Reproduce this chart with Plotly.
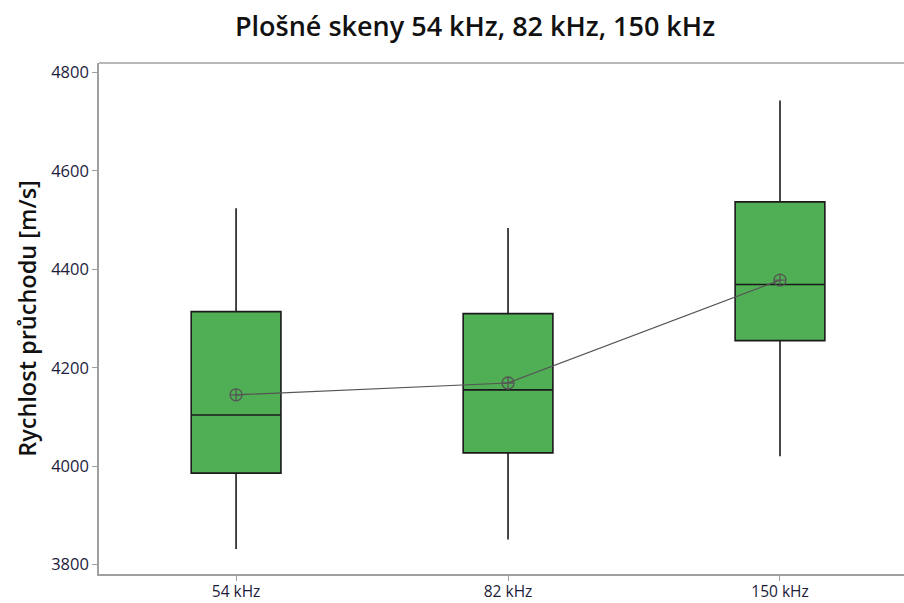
import plotly.graph_objects as go

categories = ["54 kHz", "82 kHz", "150 kHz"]
lower_whisker = [3832, 3851, 4020]
q1 = [3986, 4027, 4255]
median = [4104, 4155, 4369]
q3 = [4314, 4310, 4537]
upper_whisker = [4524, 4484, 4743]
means = [4145, 4169, 4378]

y_ticks = [3800, 4000, 4200, 4400, 4600, 4800]

fig = go.Figure()
fig.add_trace(go.Box(
    x=categories,
    q1=q1, median=median, q3=q3,
    lowerfence=lower_whisker, upperfence=upper_whisker,
    fillcolor="#50AE55",
    line=dict(color="#1a1a1a", width=1.6),
    whiskerwidth=0,
    width=0.33,
    boxpoints=False,
    hoverinfo="skip",
    showlegend=False,
))
fig.add_trace(go.Scatter(
    x=categories, y=means,
    mode="lines+markers",
    line=dict(color="#555555", width=1.2),
    marker=dict(symbol="circle-cross-open", size=12, color="#555555",
                line=dict(width=1.3, color="#555555")),
    showlegend=False,
    hoverinfo="skip",
))

axis_font = dict(family="Open Sans, Noto Sans, sans-serif", size=16.5, color="#1c1c3c")
xaxis_font = dict(family="Open Sans, Noto Sans, sans-serif", size=15.5, color="#1c1c3c")
fig.update_layout(
    width=904, height=603,
    margin=dict(l=99, r=0, t=63, b=29),
    paper_bgcolor="white",
    plot_bgcolor="white",
    title=dict(
        text="Plošné skeny 54 kHz, 82 kHz, 150 kHz",
        x=475/904, xanchor="center",
        y=1 - 27/603, yanchor="middle",
        font=dict(family="Open Sans, Noto Sans, sans-serif", size=27, color="#111111", weight=600),
    ),
    xaxis=dict(
        type="category",
        range=[-0.504, 2.456],
        automargin=False,
        showline=True, linecolor="#a0a0a0", linewidth=1.5,
        ticks="outside", tickcolor="#a0a0a0", ticklen=5, tickwidth=1,
        ticklabelstandoff=-2,
        showgrid=False, zeroline=False,
        tickfont=xaxis_font,
    ),
    yaxis=dict(
        range=[3781, 4819],
        tickvals=y_ticks,
        automargin=False,
        showline=True, linecolor="#a0a0a0", linewidth=1.5,
        ticks="outside", tickcolor="#a0a0a0", ticklen=5, tickwidth=1,
        showgrid=False, zeroline=False,
        tickfont=axis_font,
        title=dict(text="Rychlost průchodu [m/s]",
                   font=dict(family="Open Sans, Noto Sans, sans-serif", size=23.5, color="#111111", weight=600),
                   standoff=8),
    ),
    shapes=[dict(type="line", xref="paper", yref="paper", x0=0, x1=1, y0=1, y1=1,
                 line=dict(color="#a0a0a0", width=1.5))],
)

fig.write_html(
    "out.html",
    config={"displayModeBar": False},
    post_script="document.body.style.margin='0';document.body.style.overflow='hidden';",
)
